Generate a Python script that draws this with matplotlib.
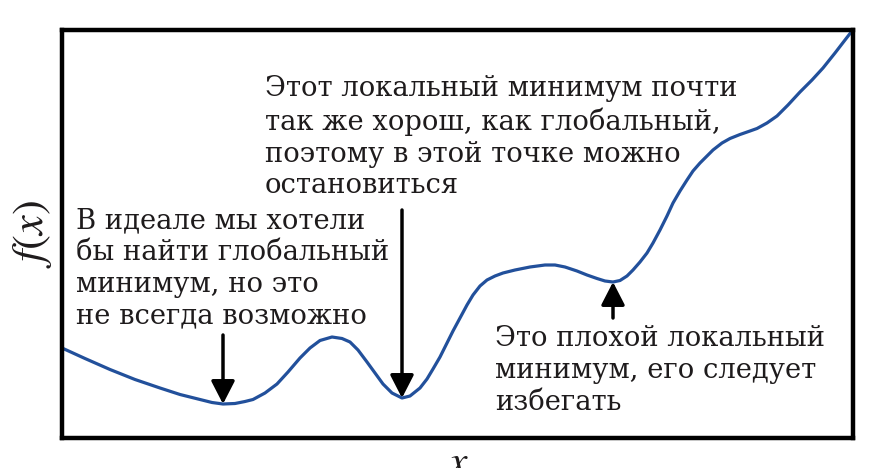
import matplotlib
matplotlib.use("Agg")
import matplotlib.pyplot as plt

# Curve samples (arbitrary units: x 0..791, y 0..408)
x_vals = [0, 23, 48, 73, 98, 118, 138, 150, 161, 173, 183, 191, 203, 215, 226,
          238, 248, 258, 270, 280, 288, 296, 305, 313, 321, 330, 340, 348, 358,
          365, 371, 378, 385, 391, 398, 405, 411, 418, 425, 433, 441, 453, 468,
          483, 493, 503, 515, 525, 535, 543, 551, 558, 565, 571, 578, 585, 591,
          598, 605, 611, 618, 625, 631, 638, 645, 651, 660, 668, 678, 688, 695,
          705, 715, 726, 738, 750, 761, 773, 783, 790, 791]
y_vals = [90, 79.5, 68.5, 58.5, 50, 43.5, 38.5, 35.5, 34, 34.5, 36.5, 38.5, 45,
          54, 66, 80, 90, 97.5, 101, 99.5, 96, 88, 76, 65, 54, 45, 40, 42, 50,
          59, 69, 81, 95, 107, 120, 133, 143, 152, 158, 162, 165, 168, 171, 173,
          173, 171, 167, 163, 159.5, 157, 156, 157.5, 162, 168, 176, 185, 195,
          208, 222, 235, 247, 258, 267, 275, 282, 288, 295, 299.5, 303.5, 307,
          309.5, 315, 322, 333, 346, 358, 370, 385, 398, 407, 408]

# Annotated minima and arrow tail heights
min_x = [161, 340, 551]
min_y = [34, 40, 156]
tail_y = [103, 228, 120]

labels = [
    "В идеале мы хотели\nбы найти глобальный\nминимум, но это\nне всегда возможно",
    "Этот локальный минимум почти\nтак же хорош, как глобальный,\nпоэтому в этой точке можно\nостановиться",
    "Это плохой локальный\nминимум, его следует\nизбегать",
]
label_pos = [(14, 231), (203, 363), (433, 113)]

plt.rcParams['mathtext.fontset'] = 'stix'
text_color = '#1e1b1c'

fig = plt.figure(figsize=(8.8, 4.68), dpi=100)
ax = fig.add_axes([62/880, 1-438/468, (853-62)/880, (438-30)/468])

ax.plot(x_vals, y_vals, color='#22509b', lw=2.3, solid_capstyle='round',
        solid_joinstyle='round')

for mx, my, ty in zip(min_x, min_y, tail_y):
    ax.annotate('', xy=(mx, my), xytext=(mx, ty),
                arrowprops=dict(arrowstyle='-|>,head_length=0.7,head_width=0.36',
                                mutation_scale=20, color='black', lw=2.5,
                                shrinkA=0, shrinkB=0))

for txt, (tx, ty) in zip(labels, label_pos):
    ax.text(tx, ty, txt, ha='left', va='top', fontsize=19.7,
            family='DejaVu Serif', color=text_color, linespacing=1.23)

ax.set_xlim(0, 791)
ax.set_ylim(0, 408)
ax.set_xticks([])
ax.set_yticks([])
for s in ax.spines.values():
    s.set_linewidth(3.2)
    s.set_color('black')

ax.set_ylabel('$f(x)$', fontsize=32, color=text_color, labelpad=6)
ax.set_xlabel('$x$', fontsize=30, color=text_color, labelpad=3)

fig.savefig('out.png', dpi=100)
